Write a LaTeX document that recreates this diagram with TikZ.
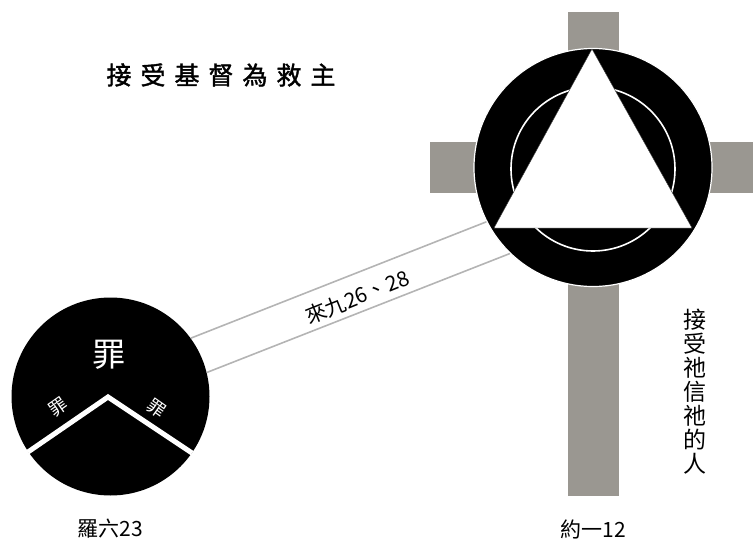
\documentclass[tikz,border=0pt]{standalone}
\usepackage{fontspec}
\newfontfamily\cjk{Noto Sans CJK TC}
\newfontfamily\cjkb[FakeBold=1.6]{Noto Sans CJK TC}
\definecolor{crossgray}{HTML}{9A9791}
\definecolor{linegray}{HTML}{B4B4B4}
\begin{document}
\begin{tikzpicture}[x=1pt,y=-1pt,
  crossbar/.style={fill=crossgray,draw=none},
  link/.style={draw=linegray,line width=1.6pt},
  lbl/.style={font=\cjk\fontsize{21}{24}\selectfont,inner sep=0pt}]
\useasboundingbox (0,0) rectangle (753,543);
% cross
\fill[crossbar] (568,12) rectangle (619,496);
\fill[crossbar] (430,142) rectangle (753,193);
% big circle
\node[circle,fill=black,draw=white,line width=1.2pt,minimum size=238pt,inner sep=0pt] (big) at (593,167.5) {};
\draw[white,line width=1.6pt] (593,169) circle[radius=82];
\coordinate (apex) at (592,49);
\coordinate (bl) at (494,228);
\coordinate (br) at (692,228);
\filldraw[fill=white,draw=black!80,line width=0.4pt] (apex) -- (bl) -- (br) -- cycle;
% small circle
\node[circle,fill=black,minimum size=198pt,inner sep=0pt] (small) at (110.5,396.5) {};
\coordinate (vapex) at (108,397);
\coordinate (vl) at (28,452);
\coordinate (vr) at (192,453);
\draw[white,line width=5pt,line cap=butt] (vl) -- (vapex) -- (vr);
\node[font=\cjk\fontsize{33}{36}\selectfont,text=white,inner sep=0pt] (zui) at (109,355) {罪};
\node[font=\cjk\fontsize{18}{20}\selectfont,text=white,inner sep=0pt,rotate=35] (zl) at (58,407) {罪};
\node[font=\cjk\fontsize{18}{20}\selectfont,text=white,inner sep=0pt,rotate=-35] (zr) at (157,408) {罪};
% connecting lines
\draw[link] (small.36) -- (big.207);
\draw[link] (small.14) -- (big.226);
\node[lbl,rotate=21.9] (matt) at (357,297) {來九26、28};
% labels
\node[lbl] (rom) at (110,529) {羅六23};
\node[lbl] (joh) at (593,529) {約一12};
\node[font=\cjkb\fontsize{25}{28}\selectfont,inner sep=0pt] (title) at (221,75) {接\hspace{9pt}受\hspace{9pt}基\hspace{9pt}督\hspace{9pt}為\hspace{9pt}救\hspace{9pt}主};
\node[font=\cjk\fontsize{23}{24}\selectfont,inner sep=0pt,align=center] (vert) at (695,392) {接\\受\\祂\\信\\祂\\的\\人};
\end{tikzpicture}
\end{document}
